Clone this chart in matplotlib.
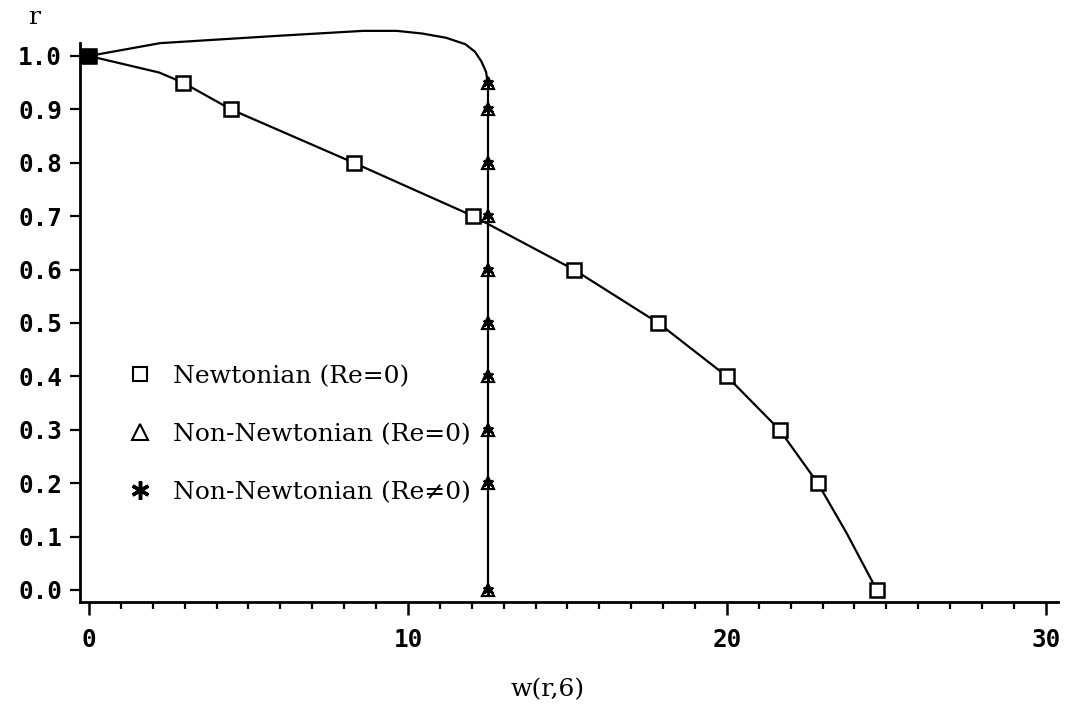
import matplotlib
matplotlib.use('Agg')
import matplotlib.pyplot as plt
from matplotlib.lines import Line2D

# Newtonian (Re=0): marker values
newt_w = [0.0, 2.95, 4.45, 8.3, 12.05, 15.2, 17.85, 20.0, 21.65, 22.85, 24.7]
newt_r = [1.0, 0.95, 0.9, 0.8, 0.7, 0.6, 0.5, 0.4, 0.3, 0.2, 0.0]

# Newtonian profile line
newt_line_w = [0.0, 2.2, 2.95, 4.45, 8.3, 12.05, 15.2, 17.85, 20.0, 21.65, 22.85, 23.75, 24.7]
newt_line_r = [1.0, 0.969, 0.95, 0.9, 0.8, 0.7, 0.6, 0.5, 0.4, 0.3, 0.2, 0.107, 0.0]

# Non-Newtonian: plug flow core at w = 12.5
nn_w = [12.5] * 10
nn_r = [0.95, 0.9, 0.8, 0.7, 0.6, 0.5, 0.4, 0.3, 0.2, 0.0]

# Non-Newtonian boundary layer near the wall
nn_top_w = [0.0, 2.23, 6.0, 8.6, 9.65, 10.45, 11.2, 11.8, 12.1, 12.3, 12.45, 12.5]
nn_top_r = [1.0, 1.024, 1.038, 1.047, 1.047, 1.042, 1.034, 1.022, 1.008, 0.99, 0.97, 0.95]

x_major = [0, 10, 20, 30]
y_ticks = [0.0, 0.1, 0.2, 0.3, 0.4, 0.5, 0.6, 0.7, 0.8, 0.9, 1.0]

text_font = ['DejaVu Serif']
tick_font = ['DejaVu Sans Mono']

fig = plt.figure(figsize=(10.68, 7.07), dpi=100)
ax = fig.add_axes([0.0749, 0.1485, 0.9157, 0.7907])

lw = 1.6
ax.plot(newt_line_w, newt_line_r, color='black', lw=lw, clip_on=False, zorder=2)
ax.plot(nn_top_w, nn_top_r, color='black', lw=lw, clip_on=False, zorder=2)
ax.plot(nn_w, nn_r, color='black', lw=lw, clip_on=False, zorder=2)

ax.plot(newt_w, newt_r, ls='none', marker='s', ms=10, mfc='white', mec='black',
        mew=1.8, clip_on=False, zorder=3)
ax.plot(nn_w, nn_r, ls='none', marker='^', ms=9, mfc='white', mec='black',
        mew=1.6, clip_on=False, zorder=4)
ax.plot(nn_w, nn_r, ls='none', marker=(6, 2, 0), ms=8, mec='black',
        mew=1.6, clip_on=False, zorder=5)
# filled block at the wall where all curves start
ax.plot([0.0], [1.0], ls='none', marker='s', ms=10, mfc='black', mec='black',
        clip_on=False, zorder=6)

ax.set_xlim(-0.282, 30.38)
ax.set_ylim(-0.0225, 1.0243)

ax.set_xticks(x_major)
ax.set_xticks(range(0, 31), minor=True)
ax.set_yticks(y_ticks)
ax.set_xticklabels([str(v) for v in x_major], fontfamily=tick_font,
                   fontweight='bold', fontsize=17.5)
ax.set_yticklabels(['%.1f' % v for v in y_ticks], fontfamily=tick_font,
                   fontweight='bold', fontsize=17.5)

ax.tick_params(axis='x', which='major', direction='out', length=9, width=1.8, pad=10)
ax.tick_params(axis='x', which='minor', direction='out', length=5, width=1.6)
ax.tick_params(axis='y', which='major', direction='out', length=7, width=1.6, pad=6)

for side in ['top', 'right']:
    ax.spines[side].set_visible(False)
for side in ['left', 'bottom']:
    ax.spines[side].set_linewidth(2.0)

ax.set_xlabel('w(r,6)', fontfamily=text_font, fontsize=18, va='center')
ax.xaxis.set_label_coords(0.478, -0.157)
fig.text(0.032, 0.975, 'r', fontfamily=text_font, fontsize=18,
         ha='center', va='center')

handles = [
    Line2D([], [], ls='none', marker='s', ms=10, mfc='white', mec='black', mew=1.5),
    Line2D([], [], ls='none', marker='^', ms=12, mfc='white', mec='black', mew=1.5),
    Line2D([], [], ls='none', marker=(6, 2, 0), ms=13, mec='black', mew=2.5),
]
labels = ['Newtonian (Re=0)', 'Non-Newtonian (Re=0)', 'Non-Newtonian (Re\u22600)']
ax.legend(handles, labels, loc='upper left', bbox_to_anchor=(0.038, 0.442),
          frameon=False, handlelength=1.0, handletextpad=0.85, labelspacing=1.4,
          borderaxespad=0, prop={'family': text_font, 'size': 18})

fig.savefig('out.png', dpi=100)
